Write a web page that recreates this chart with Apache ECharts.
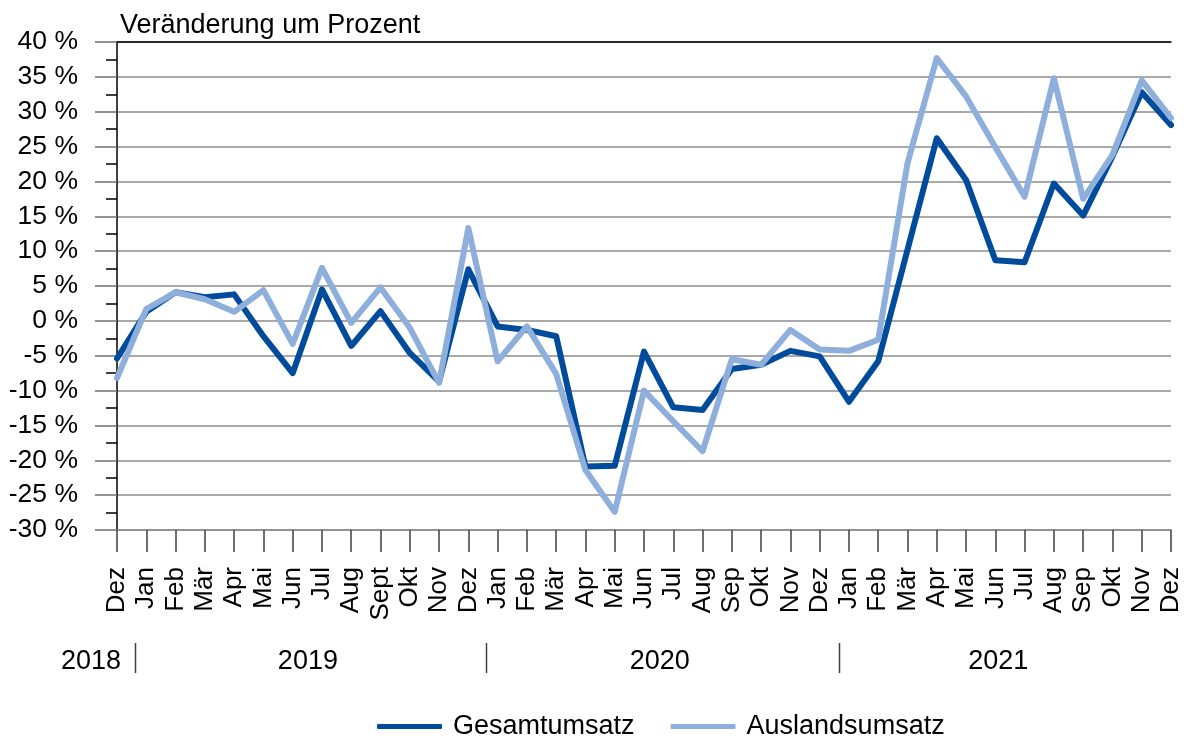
<!DOCTYPE html>
<html>
<head>
<meta charset="utf-8">
<script src="https://cdn.jsdelivr.net/npm/echarts@6/dist/echarts.min.js"></script>
<style>
html,body{margin:0;padding:0;background:#fff;}
#c{width:1184px;height:738px;}
</style>
</head>
<body>
<div id="c"></div>
<script>
// ---- data ----
const months = ['Dez',
  'Jan','Feb','Mär','Apr','Mai','Jun','Jul','Aug','Sept','Okt','Nov','Dez',
  'Jan','Feb','Mär','Apr','Mai','Jun','Jul','Aug','Sep','Okt','Nov','Dez',
  'Jan','Feb','Mär','Apr','Mai','Jun','Jul','Aug','Sep','Okt','Nov','Dez'];
const gesamtumsatz = [-5.4,
  1.3, 4.1, 3.4, 3.8, -2.2, -7.5, 4.5, -3.6, 1.4, -4.6, -8.7, 7.4,
  -0.8, -1.3, -2.2, -20.9, -20.8, -4.4, -12.4, -12.8, -6.9, -6.3, -4.3, -5.1,
  -11.6, -5.8, 10.2, 26.2, 20.2, 8.7, 8.4, 19.7, 15.1, 23.6, 32.8, 28.1];
const auslandsumsatz = [-8.2,
  1.7, 4.1, 3.1, 1.3, 4.4, -3.3, 7.6, -0.3, 4.8, -1.0, -8.9, 13.3,
  -5.8, -0.8, -7.6, -21.4, -27.4, -10.0, -14.4, -18.7, -5.5, -6.3, -1.3, -4.1,
  -4.3, -2.7, 22.6, 37.7, 32.2, 24.9, 17.8, 34.8, 17.5, 23.8, 34.5, 29.1];
const years = ['2018', '2019', '2020', '2021'];
const seriesNames = ['Gesamtumsatz', 'Auslandsumsatz'];
const yTitle = 'Veränderung um Prozent';

// ---- layout (category-index positions of year annotations) ----
const yearLabelIdx = [-0.885, 6.52, 18.54, 30.1];
const yearSepIdx = [0.6, 12.6, 24.65];

const FONT = 'Liberation Sans, Arial, sans-serif';
const chart = echarts.init(document.getElementById('c'), null, {renderer: 'canvas'});

const option = {
  animation: false,
  backgroundColor: '#fff',
  textStyle: {fontFamily: FONT},
  grid: {left: 117, right: 10, top: 42, bottom: 208, containLabel: false},
  legend: {
    data: seriesNames,
    left: 372, top: 708,
    icon: 'roundRect',
    itemWidth: 65, itemHeight: 5,
    itemGap: 36,
    textStyle: {fontSize: 27, color: '#000', fontFamily: FONT, padding: [0, 0, 0, 6]}
  },
  xAxis: [{
    type: 'category',
    data: months,
    boundaryGap: false,
    position: 'bottom',
    axisLine: {show: true, onZero: false, lineStyle: {color: '#8c8c8c', width: 1.5}},
    axisTick: {show: true, interval: 0, length: 22, lineStyle: {color: '#404040', width: 1.5}},
    axisLabel: {interval: 0, rotate: 90, margin: 37, fontSize: 26, color: '#000', fontFamily: FONT, hideOverlap: false},
    splitLine: {show: false}
  }, {
    type: 'category',
    data: months,
    boundaryGap: false,
    position: 'top',
    axisLine: {show: true, onZero: false, lineStyle: {color: '#000', width: 1.5}},
    axisTick: {show: false},
    axisLabel: {show: false}
  }],
  yAxis: {
    type: 'value',
    min: -30, max: 40, interval: 5,
    axisLine: {show: true, lineStyle: {color: '#000', width: 1.5}},
    axisTick: {show: true, length: 22, lineStyle: {color: '#6f6f6f', width: 1.5}},
    minorTick: {show: true, splitNumber: 2, length: 11, lineStyle: {color: '#000', width: 1.5}},
    axisLabel: {formatter: '{value} %', fontSize: 26.5, color: '#000', margin: 39, fontFamily: FONT},
    splitLine: {show: true, lineStyle: {color: '#8c8c8c', width: 1.5}}
  },
  series: [{
    name: seriesNames[0],
    type: 'line',
    data: gesamtumsatz,
    symbol: 'none',
    color: '#004B9B',
    lineStyle: {width: 6, color: '#004B9B', cap: 'round', join: 'round'}
  }, {
    name: seriesNames[1],
    type: 'line',
    data: auslandsumsatz,
    symbol: 'none',
    color: '#8EAEDC',
    lineStyle: {width: 6, color: '#8EAEDC', cap: 'round', join: 'round'}
  }]
};
chart.setOption(option);

// annotations positioned through the category axis scale
const p0 = chart.convertToPixel({xAxisIndex: 0}, 0);
const p1 = chart.convertToPixel({xAxisIndex: 0}, 1);
const step = p1 - p0;
const idxToPx = i => p0 + i * step;
const graphics = [{
  type: 'text', left: 120, top: 12,
  style: {text: yTitle, font: '27px ' + FONT, fill: '#000'}
}];
years.forEach((y, k) => {
  graphics.push({
    type: 'text', x: idxToPx(yearLabelIdx[k]), y: 662,
    style: {text: y, font: '27px ' + FONT, fill: '#000', align: 'center', verticalAlign: 'middle'}
  });
});
yearSepIdx.forEach(i => {
  const x = Math.round(idxToPx(i)) + 0.5;
  graphics.push({
    type: 'line', shape: {x1: x, y1: 643, x2: x, y2: 673},
    style: {stroke: '#404040', lineWidth: 1.5}
  });
});
chart.setOption({graphic: graphics});
</script>
</body>
</html>
